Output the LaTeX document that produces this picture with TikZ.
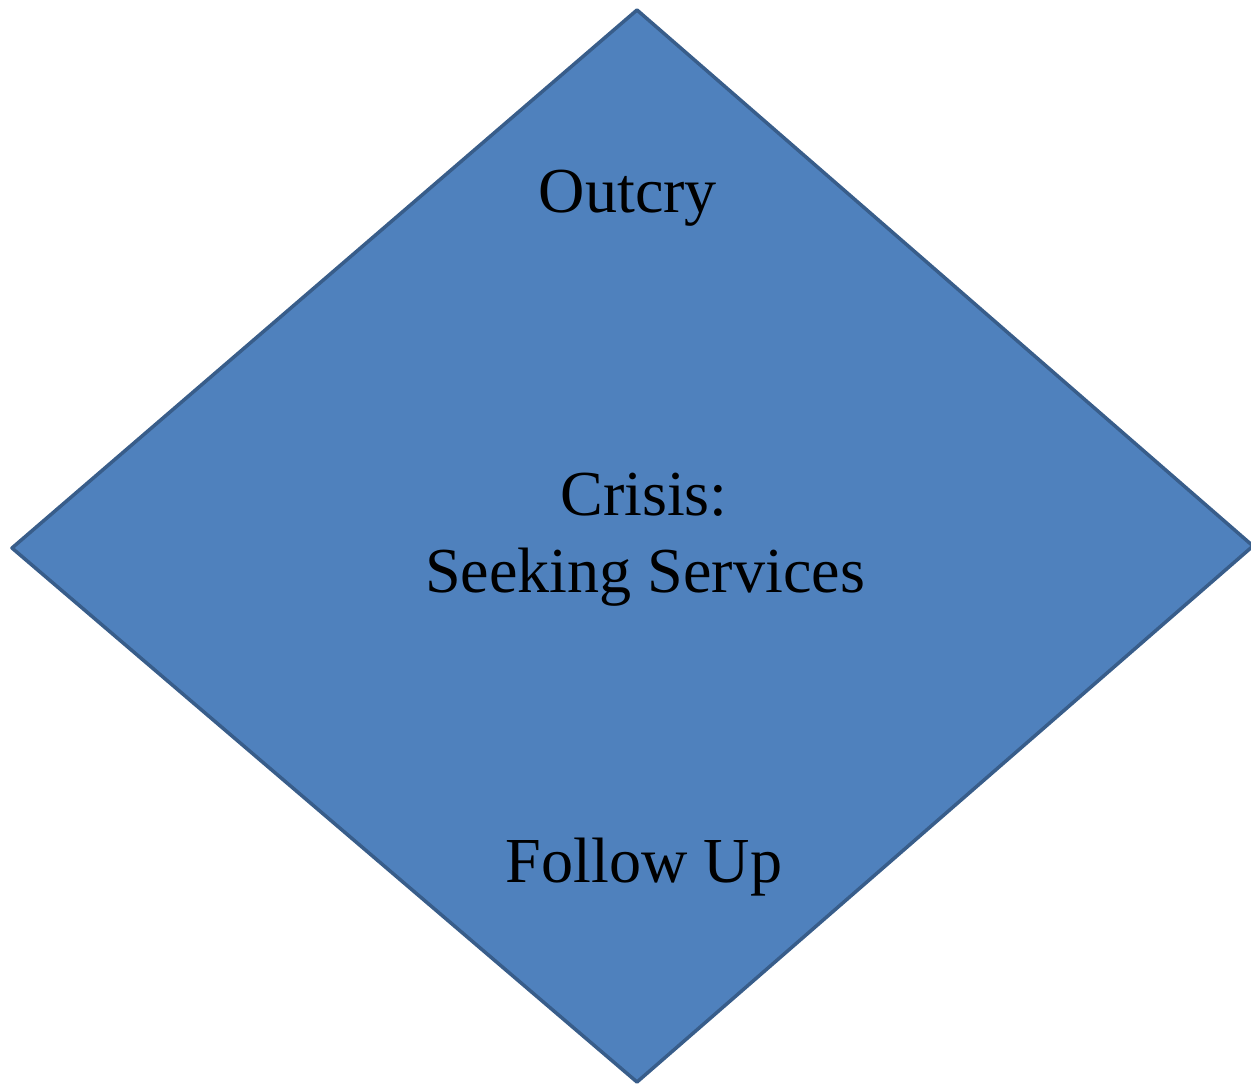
\documentclass[tikz,border=0pt]{standalone}
\usepackage{fontspec}
\setmainfont{Liberation Serif}
\usepackage{tikz}

\definecolor{stagefill}{HTML}{4F81BD}
\definecolor{stageline}{HTML}{385D8A}

\begin{document}
\begin{tikzpicture}[x=0.02cm, y=-0.02cm, font=\fontsize{36.5}{42}\selectfont,
	label/.style={anchor=base, align=center, text=black}]
	\useasboundingbox (0,0) rectangle (1251,1086);
	% corners of the diamond
	\coordinate (top) at (637,10);
	\coordinate (left) at (12,548);
	\coordinate (bottom) at (637,1082);
	\coordinate (right) at (1253,546);
	\draw[fill=stagefill, draw=stageline, line width=2pt, line join=round]
	  (top) -- (right) -- (bottom) -- (left) -- cycle;
	\node[label] (outcry) at (628,212) {Outcry};
	\node[label] (crisis) at (644,515) {Crisis:};
	\node[label] (seeking) at (645,592) {Seeking Services};
	\node[label] (follow) at (644,882) {Follow Up};
\end{tikzpicture}
\end{document}
